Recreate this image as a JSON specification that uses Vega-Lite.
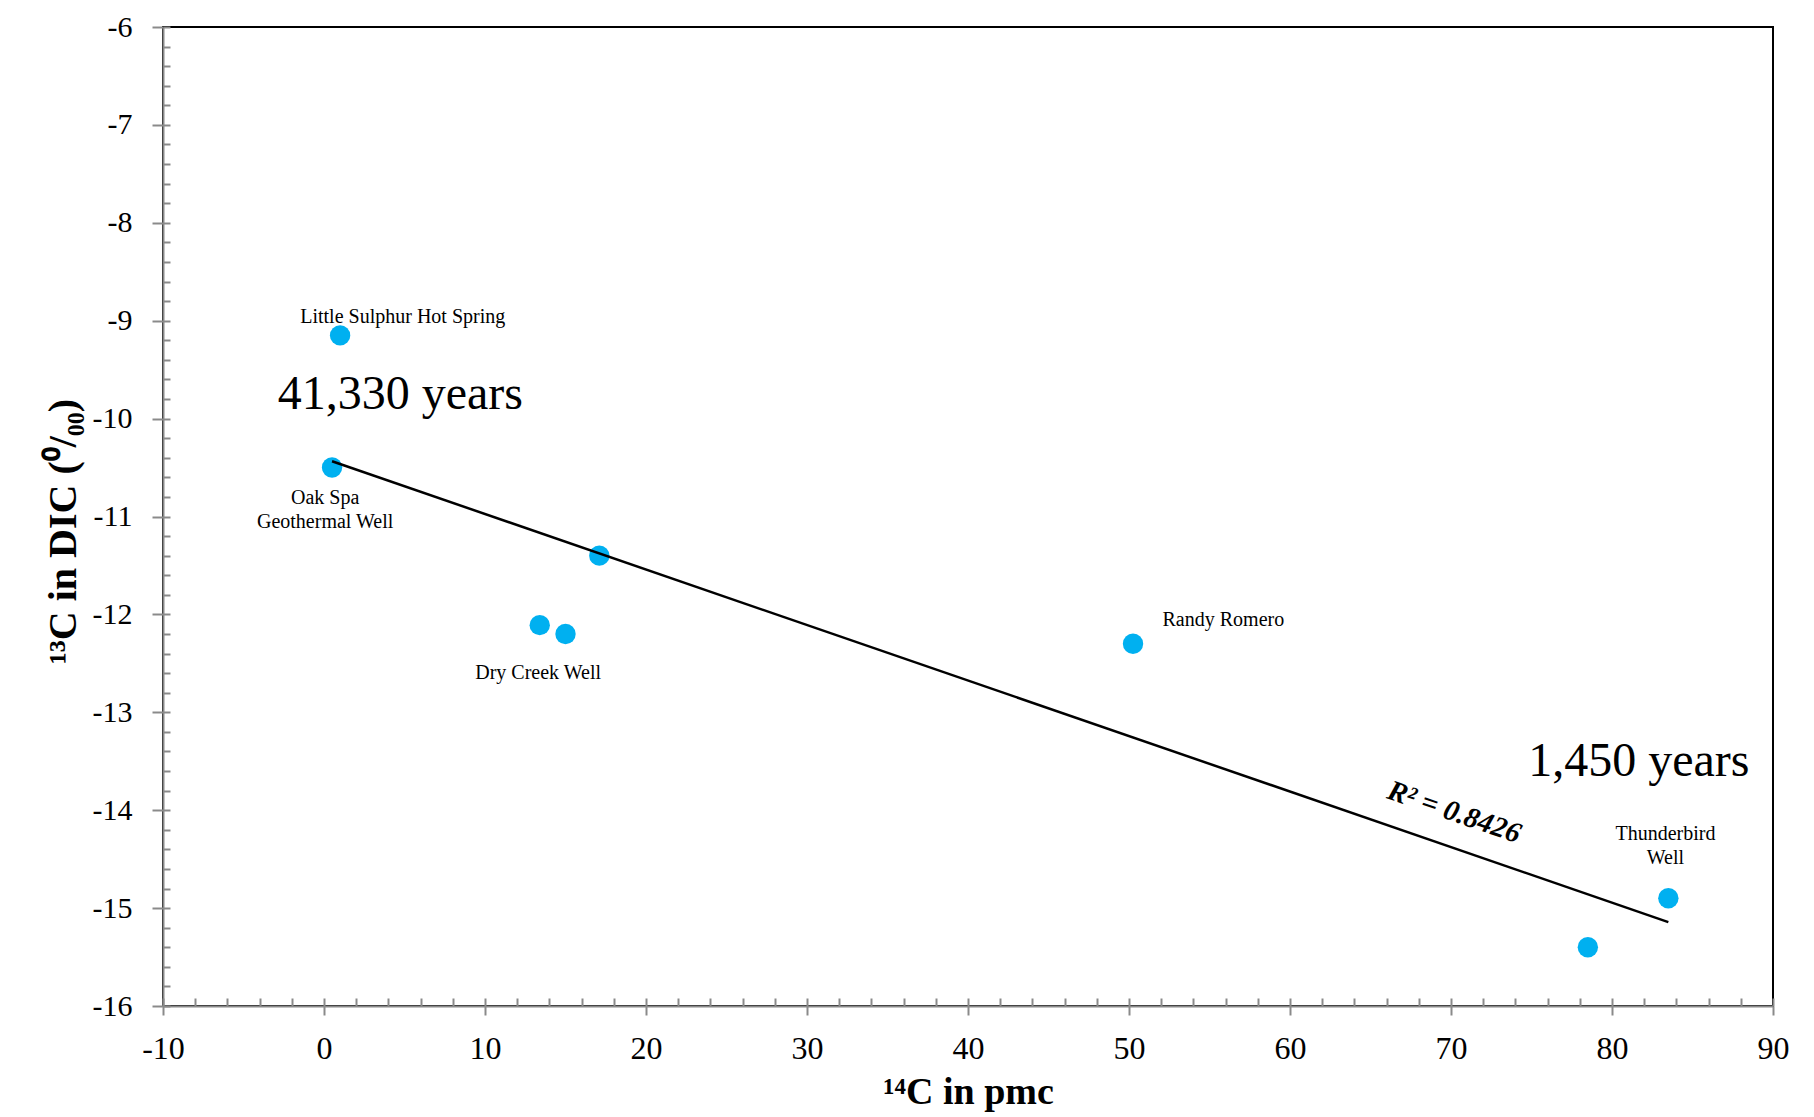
{
  "$schema": "https://vega.github.io/schema/vega-lite/v6.json",
  "width": 1610,
  "height": 979,
  "autosize": {"type": "none"},
  "padding": {"left": 163, "top": 27, "right": 41, "bottom": 111},
  "background": "white",
  "config": {
    "view": {"stroke": "black", "strokeWidth": 2},
    "font": "Liberation Serif"
  },
  "datasets": {
    "points": [
      {"pmc": 1.0, "d13c": -9.15, "site": "Little Sulphur Hot Spring"},
      {"pmc": 0.5, "d13c": -10.5, "site": "Oak Spa Geothermal Well"},
      {"pmc": 17.1, "d13c": -11.4, "site": ""},
      {"pmc": 13.4, "d13c": -12.11, "site": "Dry Creek Well"},
      {"pmc": 15.0, "d13c": -12.2, "site": "Dry Creek Well"},
      {"pmc": 50.25, "d13c": -12.3, "site": "Randy Romero"},
      {"pmc": 78.5, "d13c": -15.4, "site": ""},
      {"pmc": 83.5, "d13c": -14.9, "site": "Thunderbird Well"}
    ],
    "smallLabels": [
      {"label": "Little Sulphur Hot Spring", "pmc": 4.89, "d13c": -8.96},
      {"label": "Oak Spa", "pmc": 0.07, "d13c": -10.81},
      {"label": "Geothermal Well", "pmc": 0.07, "d13c": -11.06},
      {"label": "Dry Creek Well", "pmc": 13.3, "d13c": -12.6},
      {"label": "Randy Romero", "pmc": 55.86, "d13c": -12.06},
      {"label": "Thunderbird", "pmc": 83.32, "d13c": -14.24},
      {"label": "Well", "pmc": 83.32, "d13c": -14.49}
    ],
    "bigLabels": [
      {"label": "41,330 years", "pmc": 4.74, "d13c": -9.76},
      {"label": "1,450 years", "pmc": 81.67, "d13c": -13.51}
    ],
    "r2": [
      {"label": "R² = 0.8426", "pmc": 70.2, "d13c": -14.02}
    ]
  },
  "layer": [
    {
      "data": {"name": "points"},
      "mark": {"type": "point", "filled": true, "shape": "circle", "size": 415, "color": "#00b0f0", "opacity": 1},
      "encoding": {
        "x": {
          "field": "pmc", "type": "quantitative",
          "scale": {"domain": [-10, 90], "nice": false, "zero": false},
          "axis": {
            "orient": "bottom",
            "values": [-10, 0, 10, 20, 30, 40, 50, 60, 70, 80, 90],
            "labelExpr": "toString(datum.value)",
            "grid": false, "domainColor": "#8a8a8a", "domainWidth": 2,
            "tickColor": "#8a8a8a", "tickWidth": 2, "tickSize": 9,
            "labelFont": "Liberation Serif", "labelFontSize": 32, "labelColor": "black",
            "labelPadding": 18, "labelFlush": false,
            "title": "¹⁴C in pmc", "titleFont": "Liberation Serif", "titleFontSize": 38,
            "titleFontWeight": "bold", "titleColor": "black",
            "titleBaseline": "alphabetic", "titleY": 97
          }
        },
        "y": {
          "field": "d13c", "type": "quantitative",
          "scale": {"domain": [-16, -6], "nice": false, "zero": false},
          "axis": {
            "orient": "left",
            "values": [-16, -15, -14, -13, -12, -11, -10, -9, -8, -7, -6],
            "labelExpr": "toString(datum.value)",
            "grid": false, "domainColor": "#8a8a8a", "domainWidth": 2,
            "tickColor": "#8a8a8a", "tickWidth": 2, "tickSize": 11,
            "labelFont": "Liberation Serif", "labelFontSize": 30, "labelColor": "black",
            "labelPadding": 20, "labelFlush": false,
            "title": "¹³C in DIC (⁰/₀₀)", "titleFont": "Liberation Serif", "titleFontSize": 40,
            "titleFontWeight": "bold", "titleColor": "black",
            "titleBaseline": "middle", "titleX": -100, "titleY": 504, "titleAngle": -90
          }
        }
      }
    },
    {
      "data": {"name": "points"},
      "transform": [{"regression": "d13c", "on": "pmc", "method": "linear"}],
      "mark": {"type": "line", "color": "black", "strokeWidth": 2.5},
      "encoding": {
        "x": {
          "field": "pmc", "type": "quantitative",
          "axis": {
            "orient": "bottom",
            "values": [-10, -8, -6, -4, -2, 0, 2, 4, 6, 8, 10, 12, 14, 16, 18, 20, 22, 24, 26, 28, 30, 32, 34, 36, 38, 40, 42, 44, 46, 48, 50, 52, 54, 56, 58, 60, 62, 64, 66, 68, 70, 72, 74, 76, 78, 80, 82, 84, 86, 88, 90],
            "grid": false, "domain": false, "labels": false, "title": null,
            "tickColor": "#8a8a8a", "tickWidth": 2, "tickSize": -8
          }
        },
        "y": {
          "field": "d13c", "type": "quantitative",
          "axis": {
            "orient": "left",
            "values": [-16, -15.8, -15.6, -15.4, -15.2, -15, -14.8, -14.6, -14.4, -14.2, -14, -13.8, -13.6, -13.4, -13.2, -13, -12.8, -12.6, -12.4, -12.2, -12, -11.8, -11.6, -11.4, -11.2, -11, -10.8, -10.6, -10.4, -10.2, -10, -9.8, -9.6, -9.4, -9.2, -9, -8.8, -8.6, -8.4, -8.2, -8, -7.8, -7.6, -7.4, -7.2, -7, -6.8, -6.6, -6.4, -6.2, -6],
            "grid": false, "domain": false, "labels": false, "title": null,
            "tickColor": "#8a8a8a", "tickWidth": 2, "tickSize": -7
          }
        }
      }
    },
    {
      "data": {"name": "smallLabels"},
      "mark": {"type": "text", "font": "Liberation Serif", "fontSize": 20, "color": "black", "align": "center", "baseline": "middle"},
      "encoding": {
        "x": {"field": "pmc", "type": "quantitative", "axis": null},
        "y": {"field": "d13c", "type": "quantitative", "axis": null},
        "text": {"field": "label"}
      }
    },
    {
      "data": {"name": "bigLabels"},
      "mark": {"type": "text", "font": "Liberation Serif", "fontSize": 48, "color": "black", "align": "center", "baseline": "middle"},
      "encoding": {
        "x": {"field": "pmc", "type": "quantitative", "axis": null},
        "y": {"field": "d13c", "type": "quantitative", "axis": null},
        "text": {"field": "label"}
      }
    },
    {
      "data": {"name": "r2"},
      "mark": {"type": "text", "font": "Liberation Serif", "fontSize": 29, "fontWeight": "bold", "fontStyle": "italic", "color": "black", "align": "center", "baseline": "middle", "angle": 19},
      "encoding": {
        "x": {"field": "pmc", "type": "quantitative", "axis": null},
        "y": {"field": "d13c", "type": "quantitative", "axis": null},
        "text": {"field": "label"}
      }
    }
  ],
  "resolve": {"axis": {"x": "independent", "y": "independent"}}
}
